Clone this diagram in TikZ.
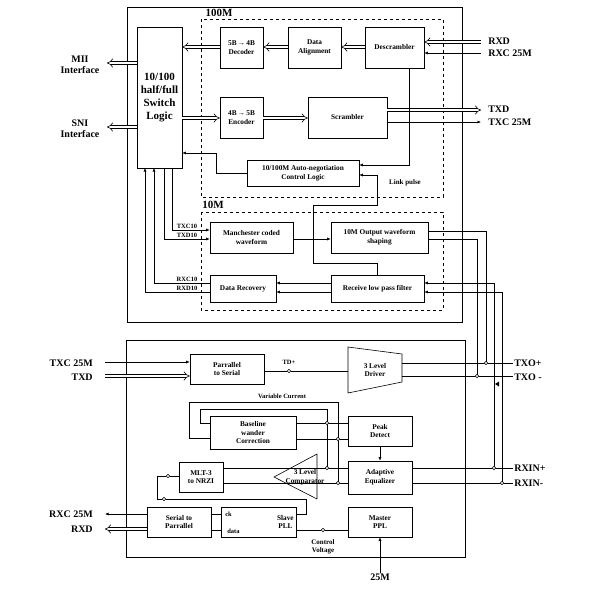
\documentclass[tikz,border=0pt]{standalone}
\usepackage{fontspec}
\setmainfont{Liberation Serif}
\usetikzlibrary{arrows.meta,calc}
\begin{document}
\begin{tikzpicture}[x=1pt,y=-1pt,line width=0.6pt,
  box/.style={draw,align=center,inner sep=0pt,font=\fontsize{7.3}{8.6}\selectfont\bfseries},
  lbl/.style={align=center,inner sep=0pt,font=\fontsize{10}{11}\selectfont\bfseries},
  sl/.style={inner sep=0pt,font=\fontsize{6.5}{7.5}\selectfont\bfseries},
  dashbox/.style={draw,dashed,line width=0.6pt},
  ar/.style={-{Latex[length=3.5pt,width=3pt]}},
  dbl/.style={double,double distance=2.6pt,line width=0.6pt,-{Implies}},
  dot/.style={draw,fill=white,circle,inner sep=0pt,minimum size=3.5pt}]
\useasboundingbox (0,0) rectangle (600,600);
% frames
\draw (127,7) rectangle (462,322);
\draw[dashbox] (201,19) rectangle (443,197);
\draw[dashbox] (201,212) rectangle (443,310);
\node[lbl,font=\fontsize{11}{12}\selectfont\bfseries] (l100) at (219,13) {100M};
\node[lbl,font=\fontsize{11}{12}\selectfont\bfseries] (l10) at (213,205) {10M};
\draw (126,340) rectangle (465,557);
% top blocks
\node[box,minimum width=45,minimum height=141,font=\fontsize{11}{13}\selectfont\bfseries] (sw) at (159.5,97.5) {10/100\\half/full\\Switch\\Logic};
\node[box,minimum width=43,minimum height=41] (dec) at (241.5,47.5) {5B\,→\,4B\\Decoder};
\node[box,minimum width=53,minimum height=41] (dal) at (314.5,47.5) {Data\\Alignment};
\node[box,minimum width=59,minimum height=41] (des) at (394.5,47.5) {Descrambler};
\node[box,minimum width=43,minimum height=41] (enc) at (241.5,117.5) {4B\,→\,5B\\Encoder};
\node[box,minimum width=79,minimum height=41] (scr) at (347.5,117.5) {Scrambler};
\node[box,minimum width=112,minimum height=26] (aut) at (303,173) {10/100M Auto-negotiation\\Control Logic};
\node[box,minimum width=83,minimum height=31] (man) at (251.5,237.5) {Manchester coded\\waveform};
\node[box,minimum width=97,minimum height=31] (osh) at (379.5,237.5) {10M Output waveform\\shaping};
\node[box,minimum width=66,minimum height=27] (drc) at (243,288.5) {Data Recovery};
\node[box,minimum width=93,minimum height=27] (lpf) at (377.5,288.5) {Receive low pass filter};
% left labels
\node[lbl] (mii) at (80,65) {MII\\Interface};
\node[lbl] (sni) at (80,129) {SNI\\Interface};
\draw[dbl] (137,63) -- (107,63);
\draw[dbl] (137,127) -- (107,127);
% 100M paths
\draw[dbl] (dal.west |- 0,47) -- (dec.east |- 0,47);
\draw[dbl] (des.west |- 0,47) -- (dal.east |- 0,47);
\draw[dbl] (dec.west |- 0,47) -- (sw.east |- 0,47);
\draw[dbl] (sw.east |- 0,118) -- (enc.west |- 0,118);
\draw[dbl] (enc.east |- 0,118) -- (scr.west |- 0,118);
\node[lbl,anchor=west] (rxd) at (488,41) {RXD};
\node[lbl,anchor=west] (rxc) at (488,53) {RXC 25M};
\node[lbl,anchor=west] (txd) at (488,109) {TXD};
\node[lbl,anchor=west] (txc) at (488,122) {TXC 25M};
\draw[dbl] (481,42) -- (des.east |- 0,42);
\draw[ar] (481,53) -- (des.east |- 0,53);
\draw[dbl] (scr.east |- 0,110) -- (481,110);
\draw[ar] (scr.east |- 0,122) -- (481,122);
\draw[ar] (409,68) -- (409,165) -- (aut.east |- 0,165);
\draw[ar] (aut.west) -- (216,173) -- (216,153) -- (sw.east |- 0,153);
\node[sl,font=\fontsize{7}{8}\selectfont\bfseries] (lp) at (405,183) {Link pulse};
\draw[ar] (lpf.north -| 377,0) -- (377,263) -- (313,263) -- (313,205) -- (377,205) -- (377,175) -- (aut.east |- 0,175);
% 10M paths
\draw[ar] (172,168) -- (172,230) -- (man.west |- 0,230);
\draw[ar] (164,168) -- (164,239) -- (man.west |- 0,239);
\draw[ar] (man.east |- 0,239) -- (osh.west |- 0,239);
\draw[ar] (lpf.west |- 0,283) -- (drc.east |- 0,283);
\draw[ar] (lpf.west |- 0,292) -- (drc.east |- 0,292);
\draw[ar] (drc.west |- 0,283) -- (154,283) -- (154,168);
\draw[ar] (drc.west |- 0,292) -- (145,292) -- (145,168);
\node[sl] (t1) at (187,226) {TXC10};
\node[sl] (t2) at (187,235) {TXD10};
\node[sl] (r1) at (187,279) {RXC10};
\node[sl] (r2) at (187,288) {RXD10};
% lower blocks
\node[box,minimum width=74,minimum height=30] (p2s) at (227,369) {Parrallel\\to Serial};
\draw (348,347) -- (402,354) -- (402,382) -- (348,393) -- cycle;
\node[box,draw=none] (drv) at (375,370) {3 Level\\Driver};
\node[box,minimum width=86,minimum height=33] (bwc) at (253,432.5) {Baseline\\wander\\Correction};
\node[box,minimum width=64,minimum height=30] (pk) at (380,431) {Peak\\Detect};
\node[box,minimum width=64,minimum height=33] (adp) at (380,477.5) {Adaptive\\Equalizer};
\node[box,minimum width=44,minimum height=30] (mlt) at (201,477) {MLT-3\\to NRZI};
\draw (274,477) -- (317,454) -- (317,499) -- cycle;
\node[box,draw=none] (cmp) at (305,477) {3 Level\\Comparator};
\node[box,minimum width=64,minimum height=30] (s2p) at (179,522) {Serial to\\Parrallel};
\node[box,minimum width=75,minimum height=30] (pll) at (258.5,522) {};
\node[sl,anchor=west] (ck) at (225,514) {ck};
\node[sl,anchor=west] (dt) at (227,531) {data};
\node[box,draw=none,anchor=east] (sp) at (294,522) {Slave\\PLL};
\node[box,minimum width=64,minimum height=30] (mas) at (380,522) {Master\\PPL};
% lower paths
\node[lbl,anchor=east] (txc2) at (93,363) {TXC 25M};
\node[lbl,anchor=east] (txd2) at (93,377) {TXD};
\draw[ar] (105,362) -- (p2s.west |- 0,362);
\draw[dbl] (105,376) -- (p2s.west |- 0,376);
\node[dot] (td) at (289,371) {};
\node[sl] (tdl) at (289,362) {TD+};
\draw (p2s.east |- 0,371) -- (td) -- (348,371);
\node[lbl,anchor=west] (txop) at (514,363) {TXO+};
\node[lbl,anchor=west] (txom) at (514,377) {TXO -};
\node[lbl,anchor=west] (rxp) at (514,468) {RXIN+};
\node[lbl,anchor=west] (rxm) at (514,483) {RXIN-};
\draw (402,363) -- (513,363);
\draw (402,376) -- (513,376);
\draw (adp.east |- 0,468) -- (513,468);
\draw (adp.east |- 0,483) -- (513,483);
\draw (osh.east |- 0,231) -- (486,231) -- (486,363);
\draw (osh.east |- 0,239) -- (477,239) -- (477,376);
\draw[ar] (494,468) -- (494,283) -- (lpf.east |- 0,283);
\draw[ar] (502,483) -- (502,292) -- (lpf.east |- 0,292);
\node[dot] at (486,363) {};
\node[dot] at (477,376) {};
\node[dot] at (494,468) {};
\node[dot] at (502,483) {};
\fill (495,384) -- (499,381.5) -- (499,386.5) -- cycle;
% baseline / peak
\draw (bwc.east |- 0,423) -- (pk.west |- 0,423);
\draw (bwc.east |- 0,439) -- (pk.west |- 0,439);
\draw (327,423) -- (327,409) -- (200,409) -- (200,423) -- (bwc.west |- 0,423);
\draw (338,439) -- (338,402) -- (189,402) -- (189,438) -- (bwc.west |- 0,438);
\node[sl] (vc) at (282,396) {Variable Current};
\draw (327,423) -- (327,468);
\draw (338,439) -- (338,483);
\node[dot] at (327,423) {};
\node[dot] at (338,439) {};
\draw (adp.west |- 0,468) -- (mlt.east |- 0,468);
\draw (adp.west |- 0,483) -- (mlt.east |- 0,483);
\node[dot] at (327,468) {};
\node[dot] at (338,483) {};
\draw[ar] (pk.south) -- (adp.north);
\node[dot] (c1) at (168,476) {};
\node[dot] (c2) at (164,499) {};
\draw (mlt.west |- 0,476) -- (c1) -- (157,476) -- (157,499) -- (c2) -- (306,499) -- (306,514) -- (pll.east |- 0,514);
\draw (s2p.east |- 0,514) -- (pll.west |- 0,514);
\draw (s2p.east |- 0,530) -- (pll.west |- 0,530);
\node[dot] (cv) at (323,530) {};
\draw (pll.east |- 0,530) -- (cv) -- (mas.west |- 0,530);
\node[sl,align=center,font=\fontsize{7}{8.5}\selectfont\bfseries] (cvl) at (323,547) {Control\\Voltage};
\node[lbl,anchor=east] (rxc2) at (93,514) {RXC 25M};
\node[lbl,anchor=east] (rxd2) at (93,529) {RXD};
\draw[ar] (s2p.west |- 0,514) -- (105,514);
\draw[dbl] (s2p.west |- 0,529) -- (105,529);
\node[lbl] (m25) at (380,577) {25M};
\draw[ar] (m25.north) -- (mas.south);
\end{tikzpicture}
\end{document}
